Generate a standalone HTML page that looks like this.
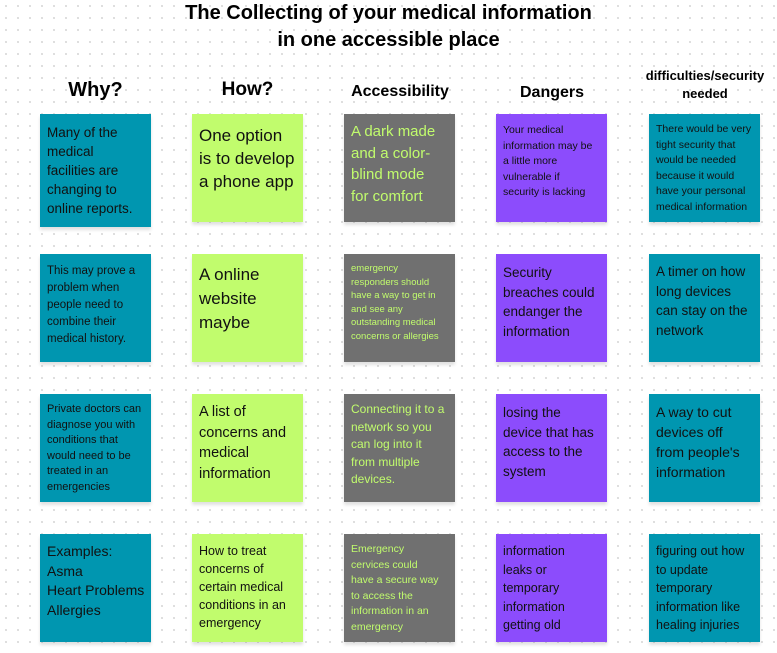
<!DOCTYPE html>
<html><head><style>
body{margin:0;width:777px;height:653px;background:#fff;background-image:radial-gradient(#dcdcdc 1px,transparent 1.2px);background-size:12px 12px;font-family:"Liberation Sans",sans-serif;position:relative;overflow:hidden}
.t{position:absolute;font-weight:bold;text-align:center;color:#000}
.b{position:absolute;width:111px;height:108px;box-sizing:border-box;padding:7px 2px 7px 7px;box-shadow:0 3px 3px rgba(0,0,0,0.12);color:#111;white-space:nowrap;overflow:hidden}
.w{background:#0096b0;left:40px}
.h{background:#c1fc6d;left:192px}
.a{background:#707070;left:344px;color:#c1fc6d}
.d{background:#8c4cfc;left:496px}
.f{background:#0096b0;left:649px}
</style></head><body>
<div class="t" style="left:0;width:777px;top:0;font-size:20px;line-height:27px">The Collecting of your medical information<br>in one accessible place</div>
<div class="t" style="left:40px;width:111px;top:79px;font-size:20px">Why?</div>
<div class="t" style="left:192px;width:111px;top:79px;font-size:19px">How?</div>
<div class="t" style="left:334px;width:132px;top:83px;font-size:16px">Accessibility</div>
<div class="t" style="left:496px;width:112px;top:84px;font-size:16px">Dangers</div>
<div class="t" style="left:634px;width:142px;top:67px;font-size:13px;line-height:18px">difficulties/security<br>needed</div>

<div class="b w" style="top:114px;height:113px;font-size:13.5px;line-height:19px;padding-top:9px">Many of the<br>medical<br>facilities are<br>changing to<br>online reports.</div>
<div class="b h" style="top:114px;font-size:17px;line-height:23px;padding-top:10px">One option<br>is to develop<br>a phone app</div>
<div class="b a" style="top:114px;font-size:15px;line-height:21.5px">A dark made<br>and a color-<br>blind mode<br>for comfort</div>
<div class="b d" style="top:114px;font-size:10.5px;line-height:15.5px;padding-top:9px">Your medical<br>information may be<br>a little more<br>vulnerable if<br>security is lacking</div>
<div class="b f" style="top:114px;font-size:10.5px;line-height:15.5px;padding-top:8px">There would be very<br>tight security that<br>would be needed<br>because it would<br>have your personal<br>medical information</div>

<div class="b w" style="top:254px;font-size:11.5px;line-height:17px;padding-top:9px">This may prove a<br>problem when<br>people need to<br>combine their<br>medical history.</div>
<div class="b h" style="top:254px;font-size:17px;line-height:24px;padding-top:9px">A online<br>website<br>maybe</div>
<div class="b a" style="top:254px;font-size:9.5px;line-height:13.5px;padding-top:8px">emergency<br>responders should<br>have a way to get in<br>and see any<br>outstanding medical<br>concerns or allergies</div>
<div class="b d" style="top:254px;font-size:13.5px;line-height:19.5px;padding-top:9px">Security<br>breaches could<br>endanger the<br>information</div>
<div class="b f" style="top:254px;font-size:13.5px;line-height:19.5px;padding-top:8px">A timer on how<br>long devices<br>can stay on the<br>network</div>

<div class="b w" style="top:394px;font-size:11px;line-height:15.5px;padding-top:8px">Private doctors can<br>diagnose you with<br>conditions that<br>would need to be<br>treated in an<br>emergencies</div>
<div class="b h" style="top:394px;font-size:14.5px;line-height:20.5px;padding-top:8px">A list of<br>concerns and<br>medical<br>information</div>
<div class="b a" style="top:394px;font-size:12px;line-height:17.5px;padding-top:7px">Connecting it to a<br>network so you<br>can log into it<br>from multiple<br>devices.</div>
<div class="b d" style="top:394px;font-size:13.5px;line-height:19.5px;padding-top:9px">losing the<br>device that has<br>access to the<br>system</div>
<div class="b f" style="top:394px;font-size:14px;line-height:20px;padding-top:8px">A way to cut<br>devices off<br>from people's<br>information</div>

<div class="b w" style="top:534px;font-size:14px;line-height:19.5px;padding-top:8px">Examples:<br>Asma<br>Heart Problems<br>Allergies</div>
<div class="b h" style="top:534px;font-size:12.5px;line-height:18px;padding-top:8px">How to treat<br>concerns of<br>certain medical<br>conditions in an<br>emergency</div>
<div class="b a" style="top:534px;font-size:10.5px;line-height:15.5px;padding-top:8px">Emergency<br>cervices could<br>have a secure way<br>to access the<br>information in an<br>emergency</div>
<div class="b d" style="top:534px;font-size:12.5px;line-height:18.5px;padding-top:8px">information<br>leaks or<br>temporary<br>information<br>getting old</div>
<div class="b f" style="top:534px;font-size:12.5px;line-height:18.5px;padding-top:8px">figuring out how<br>to update<br>temporary<br>information like<br>healing injuries</div>
</body></html>
